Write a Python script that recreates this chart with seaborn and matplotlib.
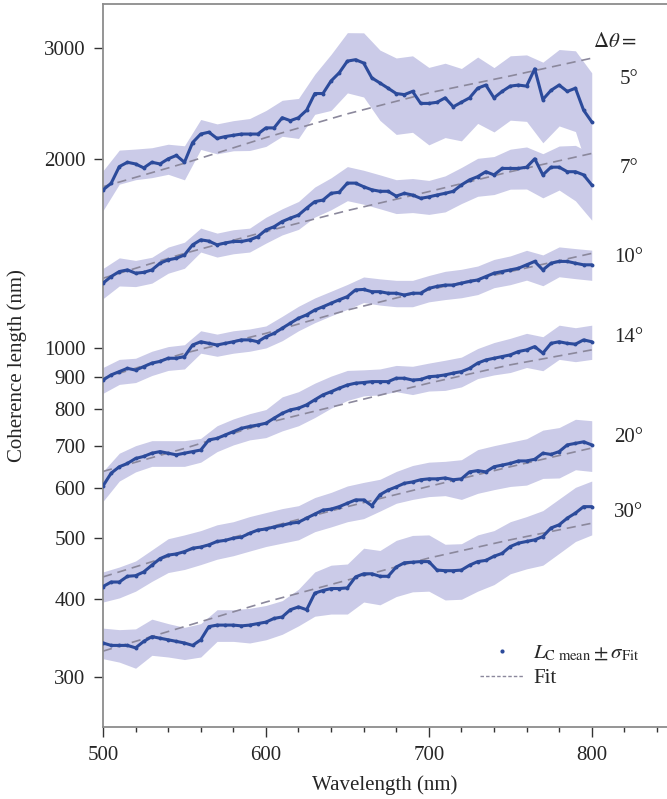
import numpy as np
import pandas as pd
import matplotlib
matplotlib.use("Agg")
import matplotlib.pyplot as plt
import seaborn as sns
from matplotlib.lines import Line2D
from matplotlib.ticker import FixedLocator, FixedFormatter, MultipleLocator, NullLocator

# ---- data -------------------------------------------------------------
wavelength = np.arange(500, 801, 5)          # mean coherence length grid (nm)
wavelength_sigma = np.arange(500, 801, 10)   # sigma grid (nm)
wavelength_fit = np.arange(500, 801, 50)     # fit curve grid (nm)

angle_labels = ["5°", "7°", "10°", "14°", "20°", "30°"]

lc_5 = [1785, 1829, 1944, 1975, 1963, 1935, 1975, 1963, 2000, 2025, 1975, 2123, 2190, 2205,
        2155, 2170, 2180, 2190, 2190, 2190, 2240, 2240, 2325, 2300, 2325, 2390, 2540, 2540,
        2660, 2740, 2860, 2875, 2840, 2690, 2640, 2590, 2540, 2530, 2560, 2450, 2450, 2460,
        2500, 2420, 2460, 2500, 2590, 2620, 2500, 2560, 2610, 2620, 2610, 2780, 2485, 2570,
        2620, 2560, 2590, 2390, 2290]
lc_7 = [1269, 1300, 1324, 1332, 1316, 1320, 1332, 1365, 1382, 1390, 1407, 1460, 1487, 1480,
        1460, 1470, 1478, 1478, 1487, 1504, 1542, 1560, 1590, 1610, 1628, 1670, 1710, 1720,
        1763, 1770, 1830, 1830, 1806, 1786, 1776, 1776, 1745, 1763, 1752, 1731, 1740, 1752,
        1763, 1776, 1818, 1852, 1874, 1908, 1886, 1931, 1931, 1931, 1940, 2000, 1886, 1940,
        1940, 1908, 1908, 1886, 1818]
lc_10 = [890, 907, 918, 929, 923, 935, 947, 953, 964, 964, 970, 1012, 1024, 1018, 1012, 1018,
         1024, 1031, 1031, 1024, 1043, 1056, 1076, 1096, 1116, 1130, 1150, 1164, 1179, 1194,
         1208, 1238, 1240, 1230, 1230, 1223, 1223, 1215, 1223, 1223, 1245, 1254, 1260, 1260,
         1269, 1277, 1284, 1300, 1316, 1324, 1332, 1340, 1357, 1374, 1332, 1365, 1374, 1374,
         1365, 1357, 1357]
lc_14 = [604, 633, 648, 656, 668, 673, 681, 685, 681, 677, 681, 685, 689, 715, 719, 728, 737,
         746, 751, 755, 760, 774, 788, 798, 803, 813, 828, 843, 853, 864, 874, 880, 882, 885,
         885, 885, 896, 896, 890, 892, 901, 903, 907, 913, 918, 929, 947, 958, 964, 970, 976,
         988, 994, 1006, 982, 1018, 1024, 1018, 1015, 1031, 1024]
lc_20 = [418, 425, 425, 434, 435, 441, 452, 463, 469, 471, 475, 481, 483, 487, 493, 495, 499,
         501, 508, 514, 516, 520, 523, 527, 529, 537, 545, 553, 555, 560, 567, 574, 574, 562,
         585, 595, 602, 610, 613, 618, 620, 620, 622, 618, 620, 636, 639, 636, 648, 652, 656,
         662, 662, 666, 681, 678, 685, 702, 706, 710, 702]
lc_30 = [340, 337, 337, 337, 334, 342, 348, 346, 344, 342, 340, 337, 344, 361, 363, 363, 363,
         362, 363, 365, 367, 372, 374, 384, 388, 384, 408, 412, 415, 415, 416, 433, 438, 438,
         434, 434, 449, 456, 457, 458, 458, 444, 443, 443, 444, 452, 458, 460, 467, 472, 484,
         490, 493, 496, 502, 518, 524, 537, 547, 560, 560]

sigma_5 = [130, 121, 110, 108, 110, 123, 120, 118, 120, 128, 147, 153, 170, 186, 272, 314,
           332, 338, 353, 356, 345, 338, 324, 313, 293, 306, 316, 364, 364, 380, 450]
sigma_7 = [70, 68, 63, 63, 66, 67, 65, 64, 65, 65, 73, 76, 83, 94, 103, 114, 112, 110, 108,
           109, 108, 116, 120, 130, 131, 141, 149, 152, 156, 193, 220]
sigma_10 = [42, 42, 41, 42, 42, 43, 42, 41, 42, 42, 42, 48, 50, 52, 53, 55, 58, 59, 59, 59,
            60, 65, 66, 67, 68, 70, 74, 75, 75, 75, 75]
sigma_14 = [33, 33, 32, 32, 32, 32, 30, 34, 35, 36, 39, 49, 50, 52, 50, 48, 42, 42, 43, 46,
            46, 50, 50, 52, 57, 61, 62, 61, 64, 63, 64]
sigma_20 = [23, 24, 24, 26, 29, 30, 30, 31, 31, 32, 32, 33, 33, 34, 35, 37, 38, 34, 35, 38,
            39, 39, 45, 51, 52, 53, 56, 60, 63, 65, 65]
sigma_30 = [19, 20, 24, 23, 21, 20, 21, 21, 21, 23, 23, 23, 26, 33, 37, 38, 43, 43, 46, 47,
            47, 45, 45, 47, 46, 46, 47, 50, 52, 54, 55]

fit_5 = [1806, 1968, 2162, 2358, 2546, 2709, 2891]
fit_7 = [1292, 1415, 1533, 1655, 1774, 1908, 2040]
fit_10 = [896, 982, 1056, 1150, 1238, 1324, 1415]
fit_14 = [637, 693, 760, 818, 880, 941, 994]
fit_20 = [433, 475, 518, 560, 603, 648, 694]
fit_30 = [330, 361, 395, 428, 464, 496, 527]

y_ticks = [300, 400, 500, 600, 700, 800, 900, 1000, 2000, 3000]

# ---- style ------------------------------------------------------------
sns.set_theme(style="ticks")
plt.rcParams["font.family"] = ["Liberation Serif", "DejaVu Serif"]
plt.rcParams["mathtext.fontset"] = "stix"

MEAN_COLOR = "#2c4b9b"
BAND_COLOR = "#cbcbe8"
FIT_COLOR = "#8b889c"
SPINE_COLOR = "#8c8c8c"
FS = 15

fig = plt.figure(figsize=(6.67, 7.99), dpi=100)
ax = fig.add_axes([103 / 667, 1 - 727 / 799, 1 - 103 / 667, (727 - 4) / 799])

means = [lc_5, lc_7, lc_10, lc_14, lc_20, lc_30]
sigmas = [sigma_5, sigma_7, sigma_10, sigma_14, sigma_20, sigma_30]
fits = [fit_5, fit_7, fit_10, fit_14, fit_20, fit_30]

for label, mean, sig, fit in zip(angle_labels, means, sigmas, fits):
    mean = np.asarray(mean, dtype=float)
    sig = np.asarray(sig, dtype=float)
    m10 = mean[::2]
    ax.fill_between(wavelength_sigma, m10 - sig, m10 + sig, color=BAND_COLOR,
                    lw=0, zorder=1)
    df = pd.DataFrame({"wavelength": wavelength, "lc": mean})
    sns.lineplot(data=df, x="wavelength", y="lc", ax=ax, color=MEAN_COLOR, lw=2.2,
                 marker="o", markersize=2.8, markeredgewidth=0, zorder=3)
    dff = pd.DataFrame({"wavelength": wavelength_fit, "fit": fit})
    sns.lineplot(data=dff, x="wavelength", y="fit", ax=ax, color=FIT_COLOR, lw=1.2,
                 linestyle=(0, (5.5, 3.5)), zorder=2)

ax.set_yscale("log")
ax.set_ylim(250, 3525)
ax.set_xlim(500, 846.2)

ax.yaxis.set_major_locator(FixedLocator(y_ticks))
ax.yaxis.set_major_formatter(FixedFormatter([str(t) for t in y_ticks]))
ax.yaxis.set_minor_locator(NullLocator())
ax.xaxis.set_major_locator(MultipleLocator(100))
ax.xaxis.set_minor_locator(MultipleLocator(20))

ax.tick_params(axis="both", which="major", direction="out", labelsize=FS,
               color="#333333", width=1.0)
ax.tick_params(axis="y", which="major", length=6.5, pad=6)
ax.tick_params(axis="x", which="major", length=7, pad=7)
ax.tick_params(axis="x", which="minor", direction="out", length=3.6, width=1.0,
               color="#333333")

for side in ["left", "bottom", "top"]:
    ax.spines[side].set_color(SPINE_COLOR)
    ax.spines[side].set_linewidth(1.3)
ax.spines["right"].set_visible(False)

ax.set_xlabel("Wavelength (nm)", fontsize=FS, labelpad=7)
ax.set_ylabel("Coherence length (nm)", fontsize=FS, labelpad=12)

# angle annotations on the right-hand side
ax.text(0.908, 0.947, r"$\Delta\theta =$", transform=ax.transAxes, fontsize=FS,
        ha="center", va="center")
label_y = [0.896, 0.773, 0.649, 0.539, 0.400, 0.296]
for label, yy in zip(angle_labels, label_y):
    ax.text(0.932, yy, label, transform=ax.transAxes, fontsize=FS,
            ha="center", va="center")

handles = [
    Line2D([], [], marker="o", ls="none", ms=3, color=MEAN_COLOR, markeredgewidth=0),
    Line2D([], [], color=FIT_COLOR, lw=1.0, linestyle=(0, (2.5, 1.5))),
]
labels = [r"$L_{\mathrm{C\ mean}} \pm \sigma_{\mathrm{Fit}}$", "Fit"]
ax.legend(handles, labels, loc="lower left", bbox_to_anchor=(0.668, 0.054),
          frameon=False, fontsize=FS, handlelength=2.1, handletextpad=0.45,
          borderpad=0, borderaxespad=0, labelspacing=0.25)

fig.savefig("out.png", dpi=100)
